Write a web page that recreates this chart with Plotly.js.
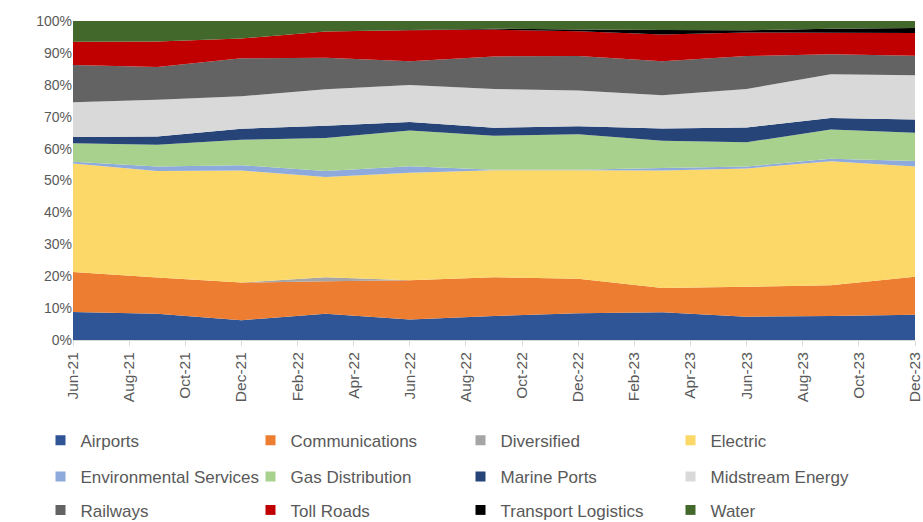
<!DOCTYPE html>
<html>
<head>
<meta charset="utf-8">
<script src="https://cdn.plot.ly/plotly-3.0.1.min.js"></script>
<style>html,body{margin:0;padding:0;background:#fff;}#chart{width:923px;height:522px;}</style>
</head>
<body>
<div id="chart"></div>
<script>
// Quarterly observation positions (month index from Jun-21)
const monthIndex = [0, 3, 6, 9, 12, 15, 18, 21, 24, 27, 30];
const tickPositions = [0, 2, 4, 6, 8, 10, 12, 14, 16, 18, 20, 22, 24, 26, 28, 30];
const tickLabels = ["Jun-21","Aug-21","Oct-21","Dec-21","Feb-22","Apr-22","Jun-22","Aug-22","Oct-22","Dec-22","Feb-23","Apr-23","Jun-23","Aug-23","Oct-23","Dec-23"];

const airports          = [8.8, 8.2, 6.2, 8.2, 6.4, 7.5, 8.4, 8.7, 7.3, 7.5, 7.9];
const communications    = [12.5, 11.4, 11.8, 10.2, 12.3, 12.2, 10.8, 7.6, 9.4, 9.7, 11.9];
const diversified       = [0, 0, 0, 1.3, 0, 0, 0, 0, 0, 0, 0];
const electric          = [34.0, 33.4, 35.1, 31.4, 33.7, 33.5, 34.0, 36.8, 37.1, 38.8, 34.6];
const environmental     = [0.6, 1.4, 1.7, 1.9, 2.1, 0.2, 0.2, 0.8, 0.6, 0.8, 1.7];
const gasDistribution   = [5.8, 6.8, 8.0, 10.3, 11.2, 10.6, 11.1, 8.6, 7.6, 9.2, 8.9];
const marinePorts       = [1.9, 2.6, 3.4, 3.9, 2.6, 2.5, 2.5, 3.8, 4.6, 3.6, 4.1];
const midstreamEnergy   = [10.9, 11.5, 10.2, 11.4, 11.6, 12.2, 11.2, 10.4, 12.1, 13.7, 13.9];
const railways          = [11.7, 10.3, 11.9, 9.9, 7.5, 10.2, 10.8, 10.7, 10.3, 6.3, 6.1];
const tollRoads         = [7.3, 8.0, 6.2, 8.2, 9.7, 8.4, 7.8, 8.4, 7.4, 6.7, 7.1];
const transportLogistics= [0, 0, 0, 0, 0.1, 0.3, 0.5, 1.4, 0.7, 1.3, 1.6];
const water             = [6.5, 6.4, 5.5, 3.3, 2.8, 2.4, 2.7, 2.8, 2.9, 2.4, 2.2];

const seriesNames = ["Airports","Communications","Diversified","Electric","Environmental Services","Gas Distribution","Marine Ports","Midstream Energy","Railways","Toll Roads","Transport Logistics","Water"];
const seriesValues = [airports, communications, diversified, electric, environmental, gasDistribution, marinePorts, midstreamEnergy, railways, tollRoads, transportLogistics, water];
const seriesColors = ["#2F5597","#ED7D31","#A5A5A5","#FCD868","#8EA9DB","#A9D18E","#264478","#D9D9D9","#636363","#C00000","#000000","#43682B"];

const legendIds = ["legend","legend","legend","legend","legend2","legend2","legend2","legend2","legend3","legend3","legend3","legend3"];

const traces = [];
seriesNames.forEach((name, i) => {
  traces.push({
    type: 'scatter', mode: 'none', x: monthIndex, y: seriesValues[i], name: name,
    stackgroup: 'one', groupnorm: 'percent', fillcolor: seriesColors[i],
    line: {width: 0}, showlegend: false, hoverinfo: 'skip'
  });
});
seriesNames.forEach((name, i) => {
  traces.push({
    type: 'scatter', mode: 'markers', x: [null], y: [null], name: name,
    marker: {symbol: 'square', size: 10, color: seriesColors[i]},
    legend: legendIds[i], showlegend: true
  });
});

const font = "Liberation Sans, Arial, sans-serif";
const legendBase = {
  orientation: 'h', x: -0.0386, xanchor: 'left', yanchor: 'middle',
  entrywidth: 165, entrywidthmode: 'pixels', traceorder: 'normal',
  font: {family: font, size: 17, color: '#595959'}, bgcolor: 'rgba(0,0,0,0)'
};

const layout = {
  width: 923, height: 522,
  margin: {l: 73, r: 8, t: 21, b: 182, autoexpand: false},
  paper_bgcolor: '#fff', plot_bgcolor: '#fff',
  font: {family: font, color: '#595959'},
  showlegend: true,
  xaxis: {
    range: [0, 30], tickmode: 'array', tickvals: tickPositions, ticktext: tickLabels,
    tickangle: -90, tickfont: {family: font, size: 15.5, color: '#595959'},
    ticklabeloverflow: 'allow',
    showgrid: false, zeroline: false, showline: true, linecolor: '#D9D9D9', linewidth: 1,
    ticks: 'outside', ticklen: 5, tickcolor: '#D9D9D9', fixedrange: true
  },
  yaxis: {
    range: [0, 100], tickmode: 'linear', tick0: 0, dtick: 10, ticksuffix: '%',
    tickfont: {family: font, size: 14, color: '#595959'},
    showgrid: false, zeroline: false, showline: false, ticks: '', fixedrange: true
  },
  legend:  Object.assign({}, legendBase, {y: -0.316}),
  legend2: Object.assign({}, legendBase, {y: -0.429}),
  legend3: Object.assign({}, legendBase, {y: -0.534})
};

Plotly.newPlot('chart', traces, layout, {displayModeBar: false, staticPlot: true});
</script>
</body>
</html>
